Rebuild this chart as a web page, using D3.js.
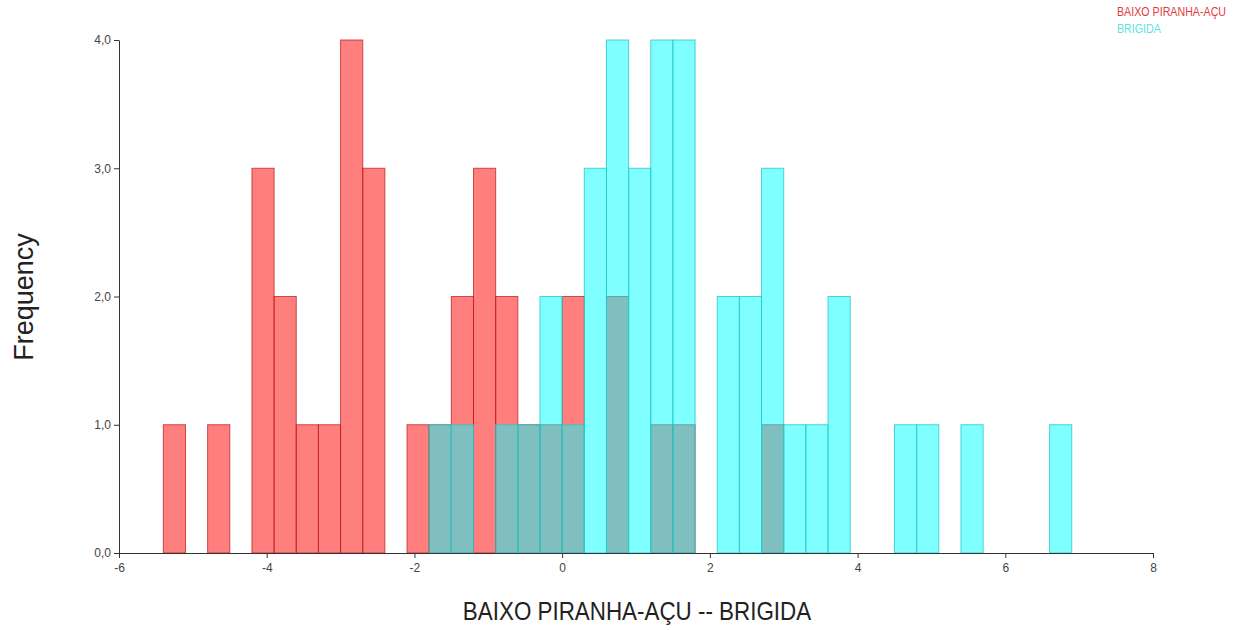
<!DOCTYPE html>
<html>
<head>
<meta charset="utf-8">
<script src="https://cdn.jsdelivr.net/npm/d3@7"></script>
<style>
  body { margin: 0; background: #fff; }
  svg { display: block; }
  .tick text { font-family: "Liberation Sans", Arial, sans-serif; font-size: 12px; fill: #444; }
  .domain, .tick line { stroke: #333; }
</style>
</head>
<body>
<svg width="1248" height="630"></svg>
<script>
// histogram bins (left edge), width 0.3
const binStarts = [-5.4, -5.1, -4.8, -4.5, -4.2, -3.9, -3.6, -3.3, -3.0, -2.7, -2.4, -2.1,
    -1.8, -1.5, -1.2, -0.9, -0.6, -0.3, 0, 0.3, 0.6, 0.9, 1.2, 1.5, 1.8, 2.1, 2.4, 2.7,
    3.0, 3.3, 3.6, 3.9, 4.2, 4.5, 4.8, 5.1, 5.4, 5.7, 6.0, 6.3, 6.6];
const binWidth = 0.3;
const baixoCounts = [1, 0, 1, 0, 3, 2, 1, 1, 4, 3, 0, 1,
    1, 2, 3, 2, 1, 1, 2, 0, 2, 0, 1, 1, 0, 0, 0, 1,
    0, 0, 0, 0, 0, 0, 0, 0, 0, 0, 0, 0, 0];
const brigidaCounts = [0, 0, 0, 0, 0, 0, 0, 0, 0, 0, 0, 0,
    1, 1, 0, 1, 1, 2, 1, 3, 4, 3, 4, 4, 0, 2, 2, 3,
    1, 1, 2, 0, 0, 1, 1, 0, 1, 0, 0, 0, 1];
const xTicks = [-6, -4, -2, 0, 2, 4, 6, 8];
const yTicks = [0, 1, 2, 3, 4];
const seriesNames = ['BAIXO PIRANHA-AÇU', 'BRIGIDA'];

const svg = d3.select('svg');
const x = d3.scaleLinear().domain([-6, 8]).range([119, 1153]);
const y = d3.scaleLinear().domain([0, 4]).range([553, 40]);

const series = [
    { name: seriesNames[0], counts: baixoCounts, fill: 'rgba(255,0,0,0.5)', stroke: 'rgba(190,30,30,0.75)', text: '#e23a3a' },
    { name: seriesNames[1], counts: brigidaCounts, fill: 'rgba(0,255,255,0.5)', stroke: 'rgba(40,200,200,0.8)', text: '#5ae4e4' }
];

series.forEach(s => {
    const bins = binStarts.map((b, i) => ({ x0: b, count: s.counts[i] })).filter(d => d.count > 0);
    svg.append('g').selectAll('rect')
        .data(bins)
        .enter().append('rect')
        .attr('x', d => x(d.x0))
        .attr('y', d => y(d.count))
        .attr('width', d => x(d.x0 + binWidth) - x(d.x0))
        .attr('height', d => y(0) - y(d.count))
        .attr('fill', s.fill)
        .attr('stroke', s.stroke)
        .attr('stroke-width', 1);
});

svg.append('g').attr('transform', 'translate(119,0)')
    .call(d3.axisLeft(y).tickValues(yTicks).tickSize(5).tickSizeOuter(0)
        .tickFormat(d => d3.format('.1f')(d).replace('.', ',')));

svg.append('g').attr('transform', 'translate(0,553)')
    .call(d3.axisBottom(x).tickValues(xTicks).tickSize(5).tickSizeOuter(0).tickPadding(5).tickFormat(d => d));

svg.append('text')
    .attr('transform', 'translate(33,297) rotate(-90)')
    .attr('text-anchor', 'middle')
    .style('font-family', 'Liberation Sans, Arial, sans-serif')
    .style('font-size', '27px')
    .attr('fill', '#222')
    .text('Frequency');

svg.append('text')
    .attr('transform', 'translate(637,620) scale(1,1.12)')
    .attr('text-anchor', 'middle')
    .style('font-family', 'Liberation Sans, Arial, sans-serif')
    .style('font-size', '22.4px')
    .attr('fill', '#222')
    .text('BAIXO PIRANHA-AÇU -- BRIGIDA');

// legend, slightly condensed like the original
svg.append('g').attr('transform', 'translate(1117,0) scale(0.89,1)')
    .selectAll('text')
    .data(series)
    .enter().append('text')
    .attr('x', 0)
    .attr('y', (d, i) => 16 + i * 17)
    .style('font-family', 'Liberation Sans, Arial, sans-serif')
    .style('font-size', '12px')
    .attr('fill', d => d.text)
    .text(d => d.name);
</script>
</body>
</html>
